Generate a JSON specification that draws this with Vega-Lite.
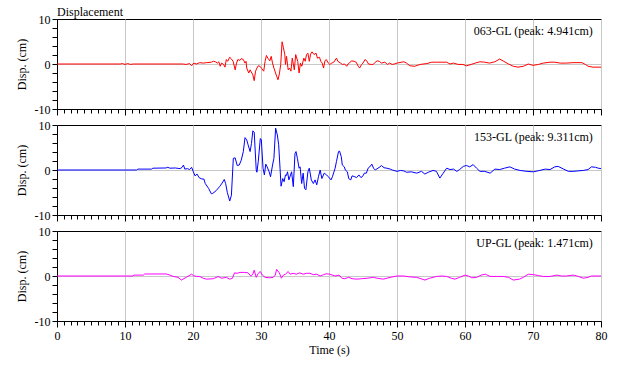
{
  "$schema": "https://vega.github.io/schema/vega-lite/v6.json",
  "background": "white",
  "padding": {"left": 14, "top": 5, "right": 18, "bottom": 3},
  "config": {
    "font": "Liberation Serif",
    "view": {"stroke": "black", "strokeWidth": 1},
    "axis": {
      "labelFont": "Liberation Serif", "titleFont": "Liberation Serif",
      "labelFontSize": 12, "titleFontSize": 12, "titleFontWeight": "normal",
      "labelColor": "black", "titleColor": "black", "tickColor": "black", "domainColor": "black",
      "gridColor": "#c8c8c8", "labelOverlap": false
    }
  },
  "datasets": {
    "a": [
      {"t":0,"v":0},{"t":9.3,"v":0},{"t":9.6,"v":0.1},{"t":10,"v":-0.1},{"t":10.4,"v":0.1},{"t":10.8,"v":-0.1},{"t":11.2,"v":0},{"t":18.5,"v":0},{"t":19,"v":-0.1},{"t":19.5,"v":0.1},{"t":19.8,"v":-0.4},{"t":20.1,"v":0.2},{"t":20.5,"v":0},{"t":21,"v":0.3},{"t":21.5,"v":0.2},{"t":22,"v":0.3},{"t":22.7,"v":0.4},{"t":23,"v":0.6},{"t":23.3,"v":0.5},{"t":23.6,"v":0.2},{"t":23.8,"v":0.5},{"t":24,"v":-0.5},{"t":24.2,"v":0.2},{"t":24.5,"v":-0.1},{"t":24.7,"v":-0.7},{"t":24.9,"v":1.0},{"t":25.1,"v":0.6},{"t":25.4,"v":1.5},{"t":25.6,"v":1.2},{"t":25.9,"v":0.6},{"t":26.2,"v":-1.3},{"t":26.4,"v":0.2},{"t":26.6,"v":1.0},{"t":26.9,"v":0.8},{"t":27.1,"v":1.2},{"t":27.4,"v":1.0},{"t":27.65,"v":0.2},{"t":27.8,"v":0.6},{"t":27.9,"v":-0.9},{"t":28.2,"v":-2.0},{"t":28.4,"v":-1.3},{"t":28.8,"v":-2.4},{"t":29.0,"v":-3.7},{"t":29.2,"v":-1.6},{"t":29.4,"v":-0.9},{"t":29.6,"v":-0.4},{"t":29.85,"v":-0.5},{"t":30.1,"v":-1.0},{"t":30.4,"v":-1.6},{"t":30.6,"v":0.6},{"t":30.8,"v":1.9},{"t":31.0,"v":1.3},{"t":31.3,"v":0.7},{"t":31.5,"v":1.7},{"t":31.7,"v":0.2},{"t":31.9,"v":-0.9},{"t":32.3,"v":-2.7},{"t":32.5,"v":-3.5},{"t":32.7,"v":-2.2},{"t":32.9,"v":-0.1},{"t":33.1,"v":4.94},{"t":33.3,"v":3.6},{"t":33.5,"v":2.1},{"t":33.6,"v":-0.1},{"t":33.75,"v":1.7},{"t":34.0,"v":-1.3},{"t":34.2,"v":-0.9},{"t":34.4,"v":-1.6},{"t":34.6,"v":1.3},{"t":34.9,"v":-1.3},{"t":35.1,"v":2.1},{"t":35.4,"v":0.6},{"t":35.6,"v":-2.0},{"t":35.8,"v":0.2},{"t":36.0,"v":-0.5},{"t":36.3,"v":1.3},{"t":36.5,"v":0.6},{"t":36.7,"v":2.1},{"t":36.9,"v":2.4},{"t":37.1,"v":0.6},{"t":37.3,"v":2.2},{"t":37.5,"v":2.7},{"t":37.8,"v":2.1},{"t":38.1,"v":2.4},{"t":38.3,"v":1.3},{"t":38.6,"v":1.5},{"t":38.8,"v":0.6},{"t":39.0,"v":0.2},{"t":39.2,"v":-0.9},{"t":39.4,"v":0.7},{"t":39.6,"v":1.0},{"t":39.9,"v":0.2},{"t":40.1,"v":-0.1},{"t":40.4,"v":0.2},{"t":40.7,"v":0.4},{"t":41.1,"v":1.3},{"t":41.3,"v":0.6},{"t":41.7,"v":0.2},{"t":41.96,"v":-0.1},{"t":42.3,"v":0},{"t":42.6,"v":-0.5},{"t":42.8,"v":0},{"t":43.0,"v":0.2},{"t":43.3,"v":0.7},{"t":43.7,"v":0.6},{"t":44.0,"v":0.4},{"t":44.3,"v":-0.5},{"t":44.5,"v":-0.9},{"t":44.8,"v":-0.1},{"t":45.0,"v":0.2},{"t":45.3,"v":1.0},{"t":45.6,"v":0.6},{"t":45.8,"v":0},{"t":46.2,"v":-0.1},{"t":46.5,"v":-0.1},{"t":46.8,"v":0.4},{"t":47.1,"v":0.7},{"t":47.4,"v":0.6},{"t":47.7,"v":0.2},{"t":48.2,"v":0.4},{"t":48.6,"v":-0.1},{"t":48.9,"v":0.2},{"t":49.3,"v":-0.1},{"t":49.6,"v":0},{"t":50.0,"v":0.2},{"t":51.0,"v":0.5},{"t":51.4,"v":0.2},{"t":51.9,"v":-0.4},{"t":52.6,"v":-0.5},{"t":53.4,"v":-0.1},{"t":54.4,"v":0.1},{"t":55.1,"v":0.4},{"t":55.8,"v":0.4},{"t":56.6,"v":0.4},{"t":57.3,"v":0.4},{"t":57.8,"v":0},{"t":58.3,"v":0.2},{"t":59.0,"v":-0.1},{"t":59.7,"v":-0.1},{"t":60.2,"v":-0.4},{"t":60.9,"v":-0.1},{"t":61.5,"v":0.2},{"t":62.2,"v":0.5},{"t":62.9,"v":0.4},{"t":63.6,"v":0.2},{"t":64.4,"v":0.5},{"t":65.1,"v":1.1},{"t":65.7,"v":0.6},{"t":66.4,"v":0},{"t":67.1,"v":-0.5},{"t":67.8,"v":-0.7},{"t":68.6,"v":-0.5},{"t":69.3,"v":0},{"t":70.0,"v":-0.3},{"t":70.8,"v":-0.1},{"t":71.5,"v":0.2},{"t":72.5,"v":0.4},{"t":73.2,"v":0.4},{"t":74.0,"v":0.2},{"t":74.9,"v":0.2},{"t":75.9,"v":0.3},{"t":77.2,"v":0.3},{"t":77.7,"v":-0.1},{"t":78.1,"v":-0.5},{"t":78.8,"v":-0.7},{"t":80,"v":-0.7}
    ],
    "b": [
      {"t":0,"v":0},{"t":11.7,"v":0},{"t":11.9,"v":0.2},{"t":13.9,"v":0.2},{"t":14.1,"v":0.4},{"t":16,"v":0.45},{"t":16.3,"v":0.6},{"t":16.6,"v":0.4},{"t":17.4,"v":0.45},{"t":18.1,"v":0.3},{"t":18.4,"v":0.6},{"t":18.6,"v":1.1},{"t":18.8,"v":0.2},{"t":19.2,"v":0.3},{"t":19.5,"v":0.1},{"t":19.8,"v":0.6},{"t":20.05,"v":-0.4},{"t":20.3,"v":-1.3},{"t":20.6,"v":-0.9},{"t":20.9,"v":-1.7},{"t":21.3,"v":-2.0},{"t":21.6,"v":-2.0},{"t":21.8,"v":-3.0},{"t":22.3,"v":-4.1},{"t":22.7,"v":-5.3},{"t":22.9,"v":-5.2},{"t":23.4,"v":-4.6},{"t":23.9,"v":-3.7},{"t":24.2,"v":-3.1},{"t":24.6,"v":-2.1},{"t":24.8,"v":-3.0},{"t":25.05,"v":-5.0},{"t":25.4,"v":-6.9},{"t":25.65,"v":-5.6},{"t":25.93,"v":2.6},{"t":26.2,"v":2.7},{"t":26.5,"v":1.0},{"t":26.8,"v":1.1},{"t":27.1,"v":2.2},{"t":27.4,"v":4.1},{"t":27.65,"v":7.2},{"t":27.9,"v":6.7},{"t":28.1,"v":5.6},{"t":28.4,"v":4.1},{"t":28.6,"v":5.9},{"t":28.8,"v":8.7},{"t":29.0,"v":8.4},{"t":29.3,"v":0},{"t":29.4,"v":-0.5},{"t":29.6,"v":1.9},{"t":29.9,"v":7.0},{"t":30.05,"v":6.7},{"t":30.3,"v":0.4},{"t":30.5,"v":-1.1},{"t":30.7,"v":1.3},{"t":30.9,"v":0.7},{"t":31.2,"v":-0.4},{"t":31.4,"v":-1.5},{"t":31.7,"v":1.1},{"t":31.9,"v":2.6},{"t":32.15,"v":9.31},{"t":32.4,"v":7.8},{"t":32.6,"v":5.6},{"t":32.8,"v":0.4},{"t":32.95,"v":-3.6},{"t":33.2,"v":-1.9},{"t":33.4,"v":-2.6},{"t":33.6,"v":-1.1},{"t":33.75,"v":-1.2},{"t":33.9,"v":-0.4},{"t":34.1,"v":-2.2},{"t":34.5,"v":-0.4},{"t":34.75,"v":-3.7},{"t":35.0,"v":3.7},{"t":35.15,"v":4.1},{"t":35.35,"v":2.6},{"t":35.6,"v":0.4},{"t":35.75,"v":0.7},{"t":35.98,"v":-3.0},{"t":36.2,"v":-0.7},{"t":36.4,"v":-4.1},{"t":36.6,"v":-4.4},{"t":36.9,"v":-0.4},{"t":37.1,"v":0.4},{"t":37.4,"v":-2.2},{"t":37.7,"v":-3.0},{"t":37.95,"v":-2.2},{"t":38.2,"v":-3.3},{"t":38.45,"v":-1.5},{"t":38.7,"v":0},{"t":38.95,"v":-1.9},{"t":39.3,"v":-0.7},{"t":39.65,"v":-1.1},{"t":39.9,"v":-1.5},{"t":40.3,"v":-2.2},{"t":40.5,"v":-1.5},{"t":40.9,"v":0.4},{"t":41.1,"v":1.9},{"t":41.4,"v":4.1},{"t":41.55,"v":4.2},{"t":41.8,"v":3.0},{"t":41.96,"v":1.1},{"t":42.25,"v":0.7},{"t":42.4,"v":0},{"t":42.7,"v":-0.4},{"t":42.9,"v":-1.9},{"t":43.2,"v":-2.2},{"t":43.4,"v":-1.3},{"t":43.8,"v":-1.5},{"t":44.05,"v":-1.7},{"t":44.4,"v":-1.1},{"t":44.7,"v":-1.7},{"t":45.0,"v":-1.3},{"t":45.2,"v":-0.7},{"t":45.5,"v":-0.7},{"t":45.75,"v":0.4},{"t":46.0,"v":0.7},{"t":46.3,"v":1.3},{"t":46.55,"v":0.4},{"t":46.8,"v":0},{"t":47.2,"v":0.4},{"t":47.5,"v":0.7},{"t":47.7,"v":1.0},{"t":48.1,"v":0.5},{"t":48.5,"v":0.4},{"t":49.0,"v":0.2},{"t":49.3,"v":0},{"t":50.0,"v":-0.3},{"t":50.5,"v":-0.1},{"t":51.0,"v":-0.2},{"t":51.4,"v":-0.5},{"t":52.1,"v":-0.4},{"t":52.9,"v":-0.7},{"t":53.6,"v":-0.3},{"t":54.1,"v":-0.9},{"t":54.6,"v":-0.5},{"t":55.3,"v":-0.1},{"t":55.8,"v":-0.3},{"t":56.3,"v":-1.8},{"t":56.8,"v":-0.7},{"t":57.3,"v":0.4},{"t":57.8,"v":0.1},{"t":58.3,"v":0.2},{"t":58.8,"v":-0.3},{"t":59.2,"v":0.1},{"t":59.75,"v":0.8},{"t":60.2,"v":1.0},{"t":60.7,"v":0.7},{"t":61.2,"v":1.2},{"t":61.7,"v":0.4},{"t":62.2,"v":-0.3},{"t":62.9,"v":-0.3},{"t":63.7,"v":-0.7},{"t":64.4,"v":0.2},{"t":65.1,"v":0.1},{"t":65.8,"v":0.4},{"t":66.6,"v":0.7},{"t":67.3,"v":0.2},{"t":68.1,"v":-0.1},{"t":69.1,"v":-0.3},{"t":70.05,"v":-0.4},{"t":71.0,"v":-0.1},{"t":71.8,"v":0.2},{"t":72.5,"v":0.1},{"t":73.2,"v":0.7},{"t":73.7,"v":0.8},{"t":74.5,"v":0.2},{"t":75.2,"v":-0.3},{"t":75.9,"v":-0.3},{"t":76.6,"v":-0.2},{"t":77.4,"v":-0.1},{"t":78.1,"v":0.1},{"t":78.6,"v":0.7},{"t":79.2,"v":0.6},{"t":79.6,"v":0.4},{"t":80,"v":0.3}
    ],
    "c": [
      {"t":0,"v":0},{"t":11.2,"v":0},{"t":11.3,"v":0.2},{"t":12.7,"v":0.2},{"t":12.9,"v":0.45},{"t":16.1,"v":0.45},{"t":16.6,"v":0.2},{"t":17.1,"v":-0.1},{"t":17.8,"v":-0.3},{"t":18.3,"v":-0.9},{"t":19.0,"v":-0.3},{"t":19.8,"v":0.4},{"t":20.05,"v":0.1},{"t":20.5,"v":-0.1},{"t":21.0,"v":-0.1},{"t":21.5,"v":-0.5},{"t":22.0,"v":-0.7},{"t":23.0,"v":-0.6},{"t":23.7,"v":-0.1},{"t":24.2,"v":-0.5},{"t":24.9,"v":-0.3},{"t":25.4,"v":-0.7},{"t":25.8,"v":-0.5},{"t":26.1,"v":0.7},{"t":26.5,"v":0.6},{"t":26.9,"v":0.8},{"t":27.6,"v":0.8},{"t":28.1,"v":0.7},{"t":28.5,"v":0},{"t":28.8,"v":0.4},{"t":29.0,"v":1.3},{"t":29.3,"v":-0.3},{"t":29.6,"v":0.6},{"t":29.9,"v":1.0},{"t":30.2,"v":0.2},{"t":30.6,"v":-0.3},{"t":31.3,"v":-0.4},{"t":31.8,"v":-0.3},{"t":32.1,"v":0.2},{"t":32.3,"v":1.47},{"t":32.7,"v":0.7},{"t":33.0,"v":-0.5},{"t":33.3,"v":0.2},{"t":33.6,"v":0.4},{"t":34.0,"v":1.0},{"t":34.3,"v":0.4},{"t":34.7,"v":0.6},{"t":35.2,"v":0.4},{"t":35.7,"v":0.7},{"t":36.2,"v":0.4},{"t":36.7,"v":0.6},{"t":37.2,"v":0.6},{"t":37.7,"v":0.3},{"t":38.2,"v":0.4},{"t":38.7,"v":0},{"t":39.2,"v":0.3},{"t":39.6,"v":0.5},{"t":40.1,"v":0.4},{"t":40.9,"v":0},{"t":41.5,"v":0.2},{"t":41.9,"v":-0.5},{"t":42.3,"v":-0.6},{"t":42.9,"v":-0.3},{"t":43.4,"v":-0.6},{"t":44.1,"v":-0.7},{"t":44.8,"v":-0.6},{"t":45.6,"v":-0.5},{"t":46.5,"v":-0.3},{"t":47.1,"v":-0.5},{"t":48.0,"v":-0.7},{"t":49.0,"v":-0.3},{"t":50.0,"v":0},{"t":51.0,"v":0},{"t":51.9,"v":-0.2},{"t":52.9,"v":-0.3},{"t":54.1,"v":-0.9},{"t":54.8,"v":-0.5},{"t":55.8,"v":-0.1},{"t":56.6,"v":0},{"t":57.3,"v":-0.1},{"t":58.0,"v":-0.5},{"t":58.5,"v":-0.7},{"t":59.2,"v":-0.3},{"t":60.0,"v":0.2},{"t":60.5,"v":0},{"t":61.0,"v":-0.4},{"t":61.7,"v":-0.3},{"t":62.4,"v":0.2},{"t":63.0,"v":0.4},{"t":63.7,"v":-0.1},{"t":64.6,"v":-0.1},{"t":65.6,"v":-0.1},{"t":66.4,"v":-0.3},{"t":67.1,"v":-0.9},{"t":68.0,"v":-0.7},{"t":68.6,"v":-0.3},{"t":69.3,"v":0.4},{"t":70.05,"v":0.3},{"t":70.8,"v":0.1},{"t":71.5,"v":-0.1},{"t":72.5,"v":-0.1},{"t":73.5,"v":0.2},{"t":74.2,"v":0},{"t":74.9,"v":0},{"t":75.9,"v":0.2},{"t":76.7,"v":-0.1},{"t":77.4,"v":-0.5},{"t":78.1,"v":-0.3},{"t":78.6,"v":0},{"t":80,"v":0}
    ]
  },
  "spacing": 16,
  "bounds": "flush",
  "vconcat": [
    {
      "width": 544, "height": 90,
      "title": {"text": "Displacement", "anchor": "start", "frame": "group", "fontSize": 12, "fontWeight": "normal", "font": "Liberation Serif", "color": "black", "offset": -6},
      "layer": [
        {
          "data": {"name": "a"},
          "mark": {"type": "line", "color": "#ff0000", "strokeWidth": 1, "clip": true},
          "encoding": {
            "x": {"field": "t", "type": "quantitative", "scale": {"domain": [0, 80], "nice": false},
              "axis": {"tickCount": 80, "labels": false, "title": null, "grid": true,
                "gridOpacity": {"condition": {"test": "datum.value % 10 === 0", "value": 1}, "value": 0},
                "tickSize": {"condition": {"test": "datum.value % 10 === 0", "value": 6}, "value": 4}}},
            "y": {"field": "v", "type": "quantitative", "scale": {"domain": [-10, 10], "nice": false},
              "axis": {"tickCount": 10, "title": "Disp. (cm)", "titlePadding": 6, "labelPadding": 2, "grid": true,
                "labelExpr": "datum.value === 10 ? '10' : datum.value === 0 ? '0' : datum.value === -10 ? '-10' : ''",
                "gridOpacity": {"condition": {"test": "datum.value === 0", "value": 1}, "value": 0},
                "tickSize": 5}}
          }
        },
        {
          "data": {"values": [{"label": "063-GL (peak: 4.941cm)"}]},
          "mark": {"type": "text", "align": "right", "baseline": "middle", "fontSize": 12, "font": "Liberation Serif", "color": "black"},
          "encoding": {"x": {"datum": 78.8, "type": "quantitative"}, "y": {"datum": 7.4, "type": "quantitative"}, "text": {"field": "label"}}
        }
      ]
    },
    {
      "width": 544, "height": 90,
      "layer": [
        {
          "data": {"name": "b"},
          "mark": {"type": "line", "color": "#0000ff", "strokeWidth": 1, "clip": true},
          "encoding": {
            "x": {"field": "t", "type": "quantitative", "scale": {"domain": [0, 80], "nice": false},
              "axis": {"tickCount": 80, "labels": false, "title": null, "grid": true,
                "gridOpacity": {"condition": {"test": "datum.value % 10 === 0", "value": 1}, "value": 0},
                "tickSize": {"condition": {"test": "datum.value % 10 === 0", "value": 6}, "value": 4}}},
            "y": {"field": "v", "type": "quantitative", "scale": {"domain": [-10, 10], "nice": false},
              "axis": {"tickCount": 10, "title": "Disp. (cm)", "titlePadding": 6, "labelPadding": 2, "grid": true,
                "labelExpr": "datum.value === 10 ? '10' : datum.value === 0 ? '0' : datum.value === -10 ? '-10' : ''",
                "gridOpacity": {"condition": {"test": "datum.value === 0", "value": 1}, "value": 0},
                "tickSize": 5}}
          }
        },
        {
          "data": {"values": [{"label": "153-GL (peak: 9.311cm)"}]},
          "mark": {"type": "text", "align": "right", "baseline": "middle", "fontSize": 12, "font": "Liberation Serif", "color": "black"},
          "encoding": {"x": {"datum": 78.8, "type": "quantitative"}, "y": {"datum": 7.4, "type": "quantitative"}, "text": {"field": "label"}}
        }
      ]
    },
    {
      "width": 544, "height": 90,
      "layer": [
        {
          "data": {"name": "c"},
          "mark": {"type": "line", "color": "#ff00ff", "strokeWidth": 1, "clip": true},
          "encoding": {
            "x": {"field": "t", "type": "quantitative", "scale": {"domain": [0, 80], "nice": false},
              "axis": {"tickCount": 80, "title": "Time (s)", "titlePadding": 3, "labelPadding": 3, "labelFlush": false, "grid": true,
                "labelExpr": "datum.value % 10 === 0 ? datum.label : ''",
                "gridOpacity": {"condition": {"test": "datum.value % 10 === 0", "value": 1}, "value": 0},
                "tickSize": {"condition": {"test": "datum.value % 10 === 0", "value": 6}, "value": 4}}},
            "y": {"field": "v", "type": "quantitative", "scale": {"domain": [-10, 10], "nice": false},
              "axis": {"tickCount": 10, "title": "Disp. (cm)", "titlePadding": 6, "labelPadding": 2, "grid": true,
                "labelExpr": "datum.value === 10 ? '10' : datum.value === 0 ? '0' : datum.value === -10 ? '-10' : ''",
                "gridOpacity": {"condition": {"test": "datum.value === 0", "value": 1}, "value": 0},
                "tickSize": 5}}
          }
        },
        {
          "data": {"values": [{"label": "UP-GL (peak: 1.471cm)"}]},
          "mark": {"type": "text", "align": "right", "baseline": "middle", "fontSize": 12, "font": "Liberation Serif", "color": "black"},
          "encoding": {"x": {"datum": 78.8, "type": "quantitative"}, "y": {"datum": 7.4, "type": "quantitative"}, "text": {"field": "label"}}
        }
      ]
    }
  ]
}
